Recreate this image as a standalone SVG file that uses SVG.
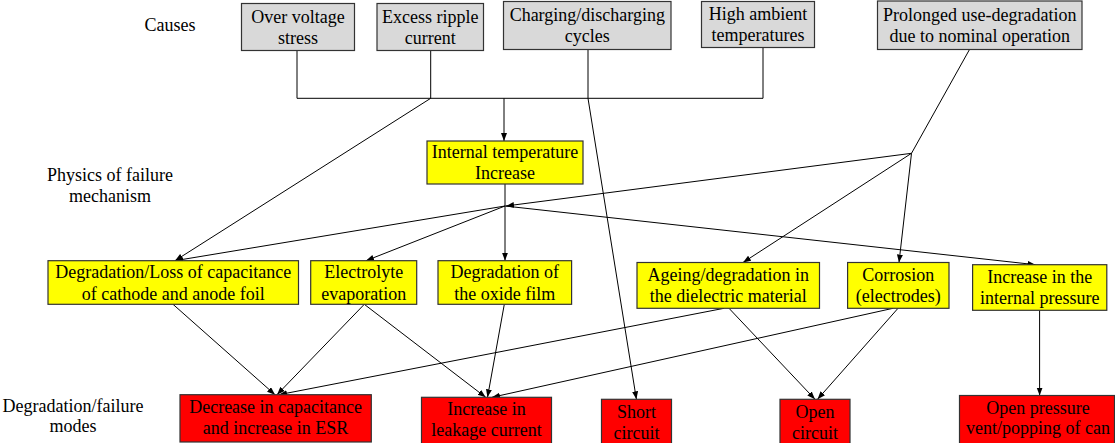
<svg xmlns="http://www.w3.org/2000/svg" width="1115" height="443" viewBox="0 0 1115 443" font-family="'Liberation Serif', Tinos, 'Times New Roman', 'DejaVu Serif', serif">
<style>
text{font-family:'Liberation Serif',Tinos,'Times New Roman','DejaVu Serif',serif;font-size:18px;fill:#000;text-anchor:middle}
.cause{fill:#d9d9d9;stroke:#333;stroke-width:1.2}
.mech{fill:#ffff00;stroke:#333;stroke-width:1.2}
.mode{fill:#ff0000;stroke:#333;stroke-width:1.2}
.ln{fill:none;stroke:#000;stroke-width:1}
.ar{fill:none;stroke:#000;stroke-width:1;marker-end:url(#ah)}
</style>
<defs>
<marker id="ah" markerUnits="userSpaceOnUse" markerWidth="9" markerHeight="7" refX="8" refY="3" orient="auto">
<path d="M0,0 L8,3 L0,6 z" fill="#000"/>
</marker>
</defs>
<rect width="1115" height="443" fill="#fff"/>
<g id="labels">
<text x="170" y="31">Causes</text>
<text x="110" y="181">Physics of failure</text>
<text x="110" y="202">mechanism</text>
<text x="73" y="412">Degradation/failure</text>
<text x="73" y="432">modes</text>
</g>
<g id="connectors">
<polyline class="ln" points="297,50.5 297,98.3 763,98.3 763,47.5"/>
<line class="ln" x1="430.7" y1="50.5" x2="430.7" y2="98.3"/>
<line class="ln" x1="588" y1="49.5" x2="588" y2="98.3"/>
<line class="ar" x1="504" y1="98.3" x2="504" y2="141"/>
<line class="ar" x1="430.7" y1="98.3" x2="175" y2="260.7"/>
<line class="ar" x1="588" y1="98.3" x2="636.4" y2="399.3"/>
<line class="ln" x1="969.5" y1="49.5" x2="911.5" y2="153.3"/>
<line class="ar" x1="911.5" y1="153.3" x2="506" y2="206"/>
<line class="ar" x1="911.5" y1="153.3" x2="743" y2="262.5"/>
<line class="ar" x1="911.5" y1="153.3" x2="899" y2="262.5"/>
<line class="ar" x1="505" y1="184" x2="505" y2="260.7"/>
<line class="ar" x1="505" y1="206" x2="175" y2="260.7"/>
<line class="ar" x1="505" y1="206" x2="366" y2="260.7"/>
<line class="ar" x1="505" y1="206" x2="1035.4" y2="264.7"/>
<line class="ar" x1="173" y1="304.3" x2="275" y2="394.7"/>
<line class="ar" x1="364.3" y1="304.3" x2="277" y2="394.7"/>
<line class="ar" x1="364.3" y1="304.3" x2="485.7" y2="397.3"/>
<line class="ar" x1="504.3" y1="304.3" x2="487.5" y2="397.3"/>
<line class="ar" x1="724" y1="308.3" x2="279" y2="394.7"/>
<line class="ar" x1="729" y1="308.3" x2="815" y2="399.3"/>
<line class="ar" x1="893" y1="308.3" x2="492" y2="397.3"/>
<line class="ar" x1="898" y1="308.3" x2="817.5" y2="399.3"/>
<line class="ar" x1="1039.6" y1="310.3" x2="1039.6" y2="395.5"/>
</g>
<g id="c1"><rect class="cause" x="241.5" y="3.5" width="113" height="47"/><text x="298" y="22.5">Over voltage</text><text x="298" y="43.5">stress</text></g>
<g id="c2"><rect class="cause" x="377" y="3.5" width="106.5" height="47"/><text x="430.3" y="22.5">Excess ripple</text><text x="430.3" y="43.5">current</text></g>
<g id="c3"><rect class="cause" x="503.5" y="1.5" width="167.5" height="48"/><text x="587.3" y="21">Charging/discharging</text><text x="587.3" y="42">cycles</text></g>
<g id="c4"><rect class="cause" x="701.5" y="1.5" width="113" height="46"/><text x="758" y="20">High ambient</text><text x="758" y="41">temperatures</text></g>
<g id="c5"><rect class="cause" x="877.5" y="1" width="204.5" height="48.5"/><text x="979.8" y="20.5">Prolonged use-degradation</text><text x="979.8" y="41.5">due to nominal operation</text></g>
<g id="m0"><rect class="mech" x="427" y="141" width="156" height="43"/><text x="505" y="158">Internal temperature</text><text x="505" y="179">Increase</text></g>
<g id="m1"><rect class="mech" x="48" y="260.7" width="250.5" height="43.6"/><text x="173.3" y="278">Degradation/Loss of capacitance</text><text x="173.3" y="299.5">of cathode and anode foil</text></g>
<g id="m2"><rect class="mech" x="310.7" y="260.7" width="106" height="43.6"/><text x="363.7" y="278">Electrolyte</text><text x="363.7" y="299.5">evaporation</text></g>
<g id="m3"><rect class="mech" x="438" y="260.7" width="133.6" height="43.6"/><text x="504.8" y="278">Degradation of</text><text x="504.8" y="299.5">the oxide film</text></g>
<g id="m4"><rect class="mech" x="637" y="262.5" width="182.5" height="45.8"/><text x="728.3" y="280.5">Ageing/degradation in</text><text x="728.3" y="302">the dielectric material</text></g>
<g id="m5"><rect class="mech" x="847.6" y="262.5" width="101.4" height="45.8"/><text x="898.3" y="280.5">Corrosion</text><text x="898.3" y="302">(electrodes)</text></g>
<g id="m6"><rect class="mech" x="972.6" y="264.7" width="134.2" height="45.6"/><text x="1039.7" y="283">Increase in the</text><text x="1039.7" y="304">internal pressure</text></g>
<g id="f1"><rect class="mode" x="180" y="394.7" width="191.3" height="47.3"/><text x="275.6" y="412.5">Decrease in capacitance</text><text x="275.6" y="434">and increase in ESR</text></g>
<g id="f2"><rect class="mode" x="421.5" y="397.3" width="130" height="47"/><text x="486.5" y="415">Increase in</text><text x="486.5" y="436">leakage current</text></g>
<g id="f3"><rect class="mode" x="601.5" y="399.3" width="70" height="45"/><text x="636.5" y="417.5">Short</text><text x="636.5" y="438.5">circuit</text></g>
<g id="f4"><rect class="mode" x="780" y="399.3" width="70" height="45"/><text x="815" y="417.5">Open</text><text x="815" y="438.5">circuit</text></g>
<g id="f5"><rect class="mode" x="959.5" y="395.5" width="155" height="49"/><text x="1038" y="413.5">Open pressure</text><text x="1038" y="434">vent/popping of can</text></g>
</svg>
